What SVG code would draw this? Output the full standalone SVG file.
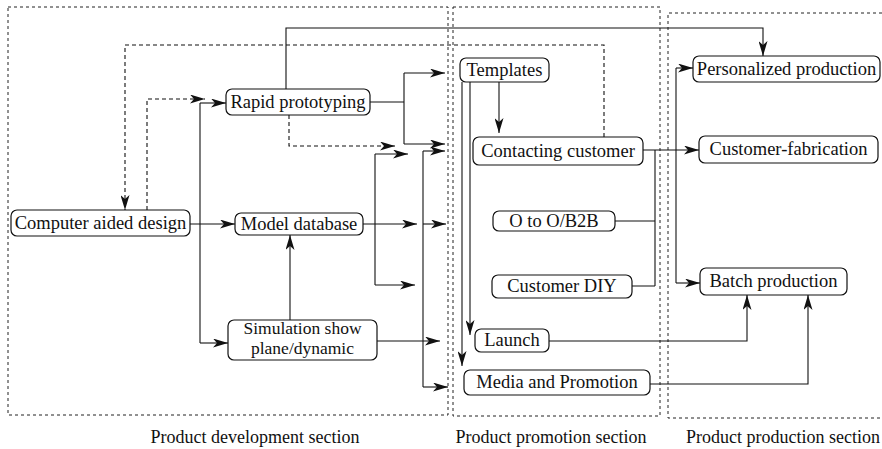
<svg xmlns="http://www.w3.org/2000/svg" width="882" height="449" viewBox="0 0 882 449">
<style>
.sec{fill:none;stroke:#222;stroke-width:1;stroke-dasharray:3,3}
.node rect{fill:#fff;stroke:#111;stroke-width:1.2}
.node text{font-family:'Liberation Serif','DejaVu Serif','Times New Roman',serif;font-size:18.5px;fill:#111;text-anchor:middle}
.node text.s{font-size:17.5px}
.lbl{font-family:'Liberation Serif','DejaVu Serif','Times New Roman',serif;font-size:18px;fill:#111;text-anchor:middle}
.c{fill:none;stroke:#111;stroke-width:1.1}
.d{stroke-dasharray:4,3}
.a{marker-end:url(#ah)}
</style>
<defs>
<marker id="ah" markerUnits="userSpaceOnUse" markerWidth="16" markerHeight="9" refX="15" refY="4.5" orient="auto">
<path d="M0,0 L15,4.5 L0,9 L4,4.5 z" fill="#111"/>
</marker>
</defs>
<g id="sections">
<rect class="sec" x="8" y="7" width="440" height="408"/>
<rect class="sec" x="453" y="7" width="207" height="409"/>
<path class="sec" d="M882,13 H668 V418 H882"/>
<text class="lbl" x="255" y="443">Product development section</text>
<text class="lbl" x="551" y="443">Product promotion section</text>
<text class="lbl" x="783" y="443">Product production section</text>
</g>
<g id="connectors">
<path class="c a" d="M286,89 V28 H763 V56"/>
<path class="c d a" d="M604,137 V45 H125 V210"/>
<path class="c d a" d="M147,210 V99 H205"/>
<path class="c a" d="M190,224 H235"/>
<path class="c" d="M200,103 V343"/>
<path class="c a" d="M200,103 H226"/>
<path class="c a" d="M200,343 H228"/>
<path class="c a" d="M290,320 V235"/>
<path class="c" d="M370,102 H404 M404,73 V144"/>
<path class="c a" d="M404,73 H445"/>
<path class="c a" d="M404,144 H445"/>
<path class="c d a" d="M289,115 V146 H395"/>
<path class="c" d="M363,224 H375 M375,154 V285"/>
<path class="c a" d="M375,154 H408"/>
<path class="c a" d="M375,224 H417"/>
<path class="c a" d="M375,285 H415"/>
<path class="c" d="M423,151 V387"/>
<path class="c a" d="M423,151 H445"/>
<path class="c a" d="M423,224 H446"/>
<path class="c a" d="M377,341 H440"/>
<path class="c a" d="M423,387 H448"/>
<path class="c a" d="M499,82 V133"/>
<path class="c a" d="M462,82 V366"/>
<path class="c a" d="M470,82 V335"/>
<path class="c a" d="M643,150 H699"/>
<path class="c" d="M615,221 H655 M632,286 H655 M655,150 V286"/>
<path class="c" d="M676,68 V283"/>
<path class="c a" d="M676,68 H693"/>
<path class="c a" d="M676,283 H700"/>
<path class="c a" d="M549,341 H747 V295"/>
<path class="c a" d="M650,384 H808 V295"/>
</g>
<g id="n-cad" class="node"><rect x="11" y="210" width="179" height="26" rx="6"/><text x="100.5" y="229">Computer aided design</text></g>
<g id="n-rapid" class="node"><rect x="226" y="89" width="144" height="26" rx="6"/><text x="298" y="108">Rapid prototyping</text></g>
<g id="n-model" class="node"><rect x="235" y="213" width="128" height="22" rx="6"/><text x="299" y="230">Model database</text></g>
<g id="n-sim" class="node"><rect x="228" y="320" width="149" height="40" rx="6"/><text class="s" x="302.5" y="334">Simulation show</text><text class="s" x="302.5" y="354">plane/dynamic</text></g>
<g id="n-templates" class="node"><rect x="460" y="58" width="89" height="24" rx="6"/><text x="504.5" y="76">Templates</text></g>
<g id="n-contact" class="node"><rect x="473" y="137" width="170" height="28" rx="6"/><text x="558" y="157">Contacting customer</text></g>
<g id="n-o2o" class="node"><rect x="493" y="211" width="122" height="20" rx="6"/><text x="554" y="227">O to O/B2B</text></g>
<g id="n-diy" class="node"><rect x="492" y="275" width="140" height="23" rx="6"/><text x="562" y="292">Customer DIY</text></g>
<g id="n-launch" class="node"><rect x="475" y="329" width="74" height="23" rx="6"/><text x="512" y="346">Launch</text></g>
<g id="n-media" class="node"><rect x="464" y="370" width="186" height="25" rx="6"/><text x="557" y="388">Media and Promotion</text></g>
<g id="n-personal" class="node"><rect x="693" y="56" width="187" height="26" rx="6"/><text x="786.5" y="75">Personalized production</text></g>
<g id="n-custfab" class="node"><rect x="699" y="136" width="179" height="27" rx="6"/><text x="788.5" y="155">Customer-fabrication</text></g>
<g id="n-batch" class="node"><rect x="700" y="268" width="147" height="27" rx="6"/><text x="773.5" y="287">Batch production</text></g>
</svg>
